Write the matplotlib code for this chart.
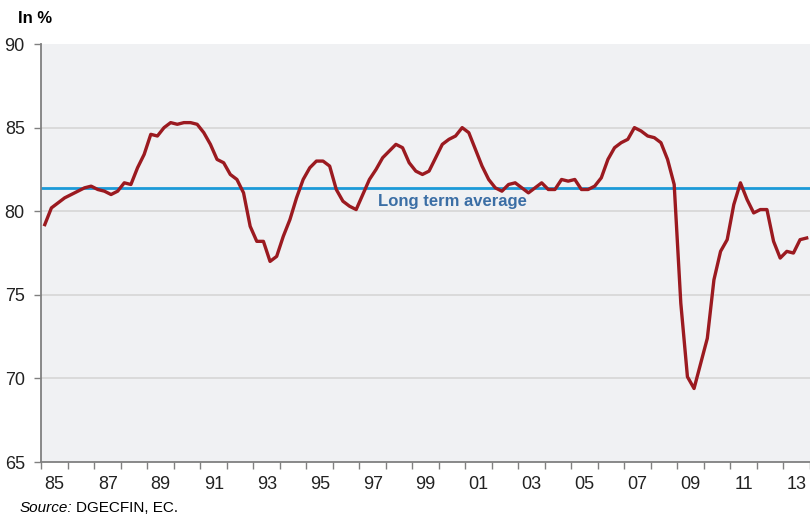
import numpy as np
import matplotlib
matplotlib.use('Agg')
import matplotlib.pyplot as plt

plt.rcParams['font.family'] = ['Liberation Sans', 'DejaVu Sans']

# quarterly capacity utilisation, 1985Q1 - 2013Q4
start_year = 1985
utilisation = [
    79.2, 80.2, 80.5, 80.8, 81.0, 81.2, 81.4, 81.5, 81.3, 81.2,
    81.0, 81.2, 81.7, 81.6, 82.6, 83.4, 84.6, 84.5, 85.0, 85.3,
    85.2, 85.3, 85.3, 85.2, 84.7, 84.0, 83.1, 82.9, 82.2, 81.9,
    81.1, 79.1, 78.2, 78.2, 77.0, 77.3, 78.5, 79.5, 80.8, 81.9,
    82.6, 83.0, 83.0, 82.7, 81.3, 80.6, 80.3, 80.1, 81.0, 81.9,
    82.5, 83.2, 83.6, 84.0, 83.8, 82.9, 82.4, 82.2, 82.4,
    83.2, 84.0, 84.3, 84.5, 85.0, 84.7, 83.7, 82.7, 81.9, 81.4,
    81.2, 81.6, 81.7, 81.4, 81.1, 81.4, 81.7, 81.3, 81.3, 81.9,
    81.8, 81.9, 81.3, 81.3, 81.5, 82.0, 83.1, 83.8, 84.1, 84.3,
    85.0, 84.8, 84.5, 84.4, 84.1, 83.1, 81.6, 74.5, 70.1,
    69.4, 70.9, 72.4, 75.9, 77.6, 78.3, 80.4, 81.7, 80.7, 79.9,
    80.1, 80.1, 78.2, 77.2, 77.6, 77.5, 78.3, 78.4,
]
long_term_average = 81.4
label_years = list(range(1985, 2014, 2))
tick_labels = ['%02d' % (y % 100) for y in label_years]

t = start_year + (np.arange(len(utilisation)) + 0.5) / 4

fig = plt.figure(figsize=(8.1, 5.18), dpi=100)
ax = fig.add_axes([0.0512, 0.108, 0.9488, 0.807])
ax.set_facecolor('#f0f1f3')

ax.axhline(long_term_average, color='#1b9ad8', lw=2, zorder=2)
ax.plot(t, utilisation, color='#9b1a20', lw=2.4, zorder=3)
ax.text(1997.7, 80.6, 'Long term average', color='#3b6ea5',
        fontsize=12, fontweight='bold', va='center', ha='left', zorder=4)

ax.set_xlim(1985, 2014)
ax.set_ylim(65, 90)

ax.set_xticks(range(1985, 2015))
ax.set_xticklabels([])
ax.set_xticks([y + 0.5 for y in label_years], minor=True)
ax.set_xticklabels(tick_labels, minor=True, fontsize=13)
ax.tick_params(axis='x', which='major', length=5, color='#808080', width=1)
ax.tick_params(axis='x', which='minor', length=0, pad=10, colors='#222222')

ax.set_yticks([65, 70, 75, 80, 85, 90])
ax.tick_params(axis='y', length=5, color='#808080', width=1, pad=7,
               labelsize=13, labelcolor='#222222')
for y in [70, 75, 80, 85]:
    ax.axhline(y, color='#d8d8d8', lw=1.3, zorder=1)

for side in ['top', 'right']:
    ax.spines[side].set_visible(False)
for side in ['left', 'bottom']:
    ax.spines[side].set_color('#808080')
    ax.spines[side].set_linewidth(1.3)

fig.text(0.022, 0.965, 'In %', fontsize=12, fontweight='bold', va='center')
src = fig.text(0.024, 0.019, 'Source:', fontsize=11, style='italic', va='center')
ax.annotate('DGECFIN, EC.', xy=(1, 0.5), xycoords=src, xytext=(3, 0),
            textcoords='offset points', fontsize=11, va='center',
            annotation_clip=False)

fig.savefig('out.png', dpi=100)
